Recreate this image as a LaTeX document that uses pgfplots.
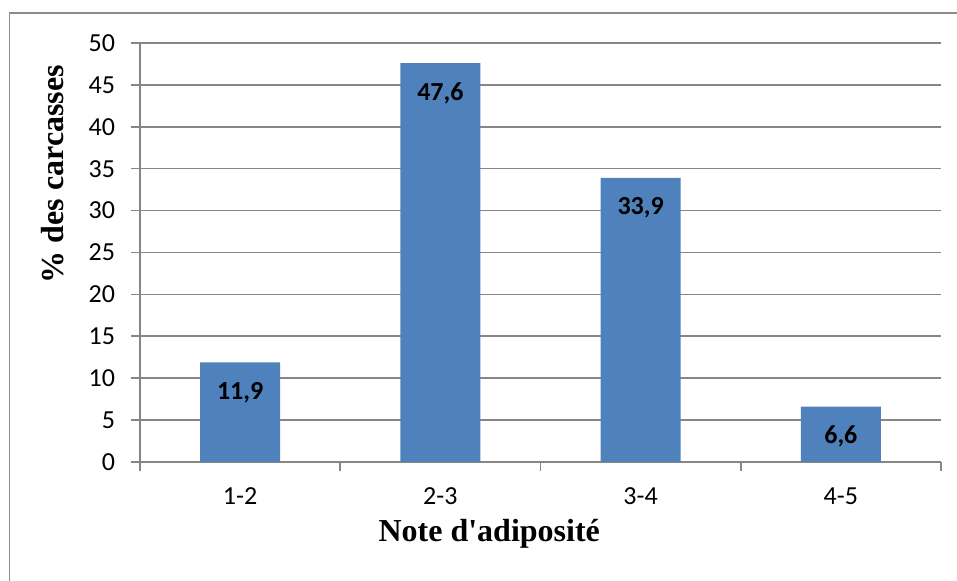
\documentclass[border=0pt]{standalone}
\usepackage{pgfplots}
\pgfplotsset{compat=1.18}
\usepackage{fontspec}
\setmainfont{Liberation Serif}
\newfontfamily\calibri{Carlito}
\definecolor{barblue}{HTML}{4F81BD}
\definecolor{gridgray}{HTML}{868686}
\definecolor{framegray}{HTML}{8C8C8C}
\begin{document}
\begin{tikzpicture}
\path[use as bounding box] (0,0) rectangle (478.5pt,290.5pt);
\draw[framegray, line width=0.8pt] (4.8pt,-2pt) -- (4.8pt,284pt) -- (480pt,284pt);
\begin{axis}[
  at={(70pt,59.5pt)}, anchor=south west,
  scale only axis, width=400.5pt, height=209.5pt,
  xmin=-0.5, xmax=3.5, ymin=0, ymax=50,
  ytick={0,5,...,50},
  xtick={-0.5,0.5,1.5,2.5,3.5}, xticklabels={},
  extra x ticks={0,1,2,3},
  extra x tick labels={1-2,2-3,3-4,4-5},
  extra x tick style={major tick length=0pt, tick style={draw=none}},
  axis lines*=left,
  axis line style={gridgray, line width=0.8pt},
  tick align=outside, major tick length=4.5pt,
  tick style={gridgray, line width=0.8pt},
  ymajorgrids, grid style={gridgray, line width=0.8pt},
  /pgf/number format/assume math mode=true,
  tick label style={font=\calibri\fontsize{13pt}{15pt}\selectfont, black},
  xticklabel style={yshift=-9.5pt},
  yticklabel style={xshift=-4.5pt},
  ylabel={\% des carcasses},
  xlabel={Note d\textquotesingle adiposité},
  label style={font=\bfseries\fontsize{16pt}{18pt}\selectfont},
  xlabel style={at={(axis description cs:0.436,0)}, anchor=base, yshift=-40pt},
  ylabel style={at={(axis description cs:-0.0961,0.687)}, anchor=base},
  clip=false,
]
\addplot[ybar, bar width=40pt, fill=barblue, draw=none,
  nodes near coords,
  point meta=explicit,
  every node near coord/.append style={font=\calibri\bfseries\fontsize{13pt}{15pt}\selectfont, black, anchor=center, yshift=-15pt},
  /pgf/number format/.cd, fixed, precision=1, fixed zerofill, use comma, assume math mode=true,
] coordinates {(0,11.9) [11.9] (1,47.6) [47.6] (2,33.9) [33.9] (3,6.6) [6.6]};
\end{axis}
\end{tikzpicture}
\end{document}
